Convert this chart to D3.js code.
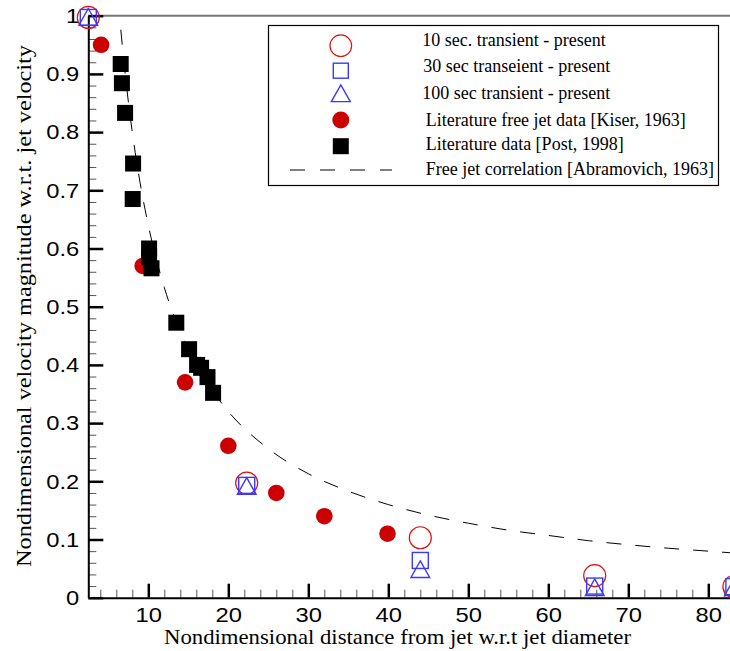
<!DOCTYPE html>
<html>
<head>
<meta charset="utf-8">
<script src="https://cdn.jsdelivr.net/npm/d3@7"></script>
<style>
  html, body { margin: 0; padding: 0; background: #fff; }
  svg { display: block; }
  .serif { font-family: "Liberation Serif", "Times New Roman", serif; }
  .sans { font-family: "Liberation Sans", Arial, sans-serif; }
</style>
</head>
<body>
<svg id="chart" width="730" height="651"></svg>
<script>
// Centreline velocity decay of a free jet: present transient runs vs literature

// Present simulations: 10 s, 30 s and 100 s transients
const present10X  = [2.5, 22.3, 44.0, 65.8, 83.2];
const present10Y  = [0.997, 0.197, 0.103, 0.038, 0.019];
const present30X  = [2.5, 22.3, 44.0, 65.8, 83.2];
const present30Y  = [0.997, 0.193, 0.064, 0.020, 0.019];
const present100X = [2.5, 22.3, 44.0, 65.8, 83.2];
const present100Y = [0.998, 0.192, 0.049, 0.018, 0.018];

// Literature free jet data [Kiser, 1963]
const kiserX = [4.1, 9.3, 14.6, 20.0, 26.0, 32.0, 39.9];
const kiserY = [0.95, 0.57, 0.37, 0.261, 0.18, 0.14, 0.11];

// Literature data [Post, 1998]
const postX = [6.55, 6.7, 7.1, 8.1, 8.05, 10.1, 10.1, 10.4, 13.5, 15.1, 16.1, 16.6, 17.4, 18.1];
const postY = [0.917, 0.884, 0.833, 0.746, 0.685, 0.600, 0.585, 0.566, 0.4725, 0.427, 0.400, 0.395, 0.379, 0.352];

// Free jet correlation [Abramovich, 1963]
const corrX = [6.4, 7, 8, 9, 10, 12, 14, 16, 18, 20, 25, 30, 35, 40, 45, 50, 55, 60, 65, 70, 75, 80, 85];
const corrY = [1.0, 0.914, 0.80, 0.711, 0.64, 0.533, 0.457, 0.40, 0.356, 0.32, 0.256, 0.213, 0.183, 0.16, 0.142, 0.128, 0.116, 0.107, 0.098, 0.091, 0.085, 0.080, 0.075];

// Axis ticks
const xMajorTicks = [10, 20, 30, 40, 50, 60, 70, 80];
const xTickLabels = ["10", "20", "30", "40", "50", "60", "70", "80"];
const xMinorTicks = [4, 6, 8, 12, 14, 16, 18, 22, 24, 26, 28, 32, 34, 36, 38, 42, 44, 46, 48,
                     52, 54, 56, 58, 62, 64, 66, 68, 72, 74, 76, 78, 82, 84];
const yMajorTicks = [0, 0.1, 0.2, 0.3, 0.4, 0.5, 0.6, 0.7, 0.8, 0.9, 1.0];
const yTickLabels = ["0", "0.1", "0.2", "0.3", "0.4", "0.5", "0.6", "0.7", "0.8", "0.9", "1"];
const yMinorTicks = [0.02, 0.04, 0.06, 0.08, 0.12, 0.14, 0.16, 0.18, 0.22, 0.24, 0.26, 0.28,
                     0.32, 0.34, 0.36, 0.38, 0.42, 0.44, 0.46, 0.48, 0.52, 0.54, 0.56, 0.58,
                     0.62, 0.64, 0.66, 0.68, 0.72, 0.74, 0.76, 0.78, 0.82, 0.84, 0.86, 0.88,
                     0.92, 0.94, 0.96, 0.98];

const legendLabels = [
  "10 sec. transient - present",
  "30 sec transeient - present",
  "100 sec transient - present",
  "Literature free jet data [Kiser, 1963]",
  "Literature data [Post, 1998]",
  "Free jet correlation [Abramovich, 1963]"
];

const RED_OPEN = "#e01010";
const RED_FILL = "#cc0000";
const BLUE = "#3a3aff";
const WIDEN = 1.13;   // glyphs are drawn a little wider than the face's natural width

const svg = d3.select("#chart");

const x = d3.scaleLinear().domain([2.5, 85]).range([88.3, 748.3]);
const y = d3.scaleLinear().domain([0, 1]).range([597.7, 15.7]);

const zip = (xs, ys) => xs.map((v, i) => [v, ys[i]]);

// Top frame line at y = 1
svg.append("line")
  .attr("x1", x(2.5)).attr("x2", x(85))
  .attr("y1", y(1)).attr("y2", y(1))
  .attr("stroke", "#777").attr("stroke-width", 2);

// Minor ticks
const xMinor = svg.append("g")
  .attr("transform", `translate(0,${y(0)})`)
  .call(d3.axisBottom(x).tickValues(xMinorTicks).tickSizeInner(-8).tickSizeOuter(0).tickFormat(""));
xMinor.select(".domain").remove();
xMinor.selectAll(".tick line").attr("stroke", "#555").attr("stroke-width", 1);

const yMinor = svg.append("g")
  .attr("transform", `translate(${x(2.5)},0)`)
  .call(d3.axisLeft(y).tickValues(yMinorTicks).tickSizeInner(-8).tickSizeOuter(0).tickFormat(""));
yMinor.select(".domain").remove();
yMinor.selectAll(".tick line").attr("stroke", "#555").attr("stroke-width", 1);

// Major ticks and labels
const xAxis = svg.append("g")
  .attr("transform", `translate(0,${y(0)})`)
  .call(d3.axisBottom(x).tickValues(xMajorTicks).tickSizeInner(-14).tickSizeOuter(0)
    .tickPadding(9).tickFormat((d, i) => xTickLabels[i]));
xAxis.select(".domain").attr("stroke", "#000").attr("stroke-width", 2);
xAxis.selectAll(".tick line").attr("stroke", "#000").attr("stroke-width", 2.5);
xAxis.selectAll(".tick text").attr("class", "sans").attr("font-size", 21).attr("fill", "#000")
  .attr("transform", `scale(${WIDEN},1)`);

const yAxis = svg.append("g")
  .attr("transform", `translate(${x(2.5)},0)`)
  .call(d3.axisLeft(y).tickValues(yMajorTicks).tickSizeInner(-15).tickSizeOuter(0)
    .tickPadding(8).tickFormat((d, i) => yTickLabels[i]));
yAxis.select(".domain").attr("stroke", "#000").attr("stroke-width", 2);
yAxis.selectAll(".tick line").attr("stroke", "#000").attr("stroke-width", 2.5);
yAxis.selectAll(".tick text").attr("class", "sans").attr("font-size", 21).attr("fill", "#000")
  .attr("transform", `scale(${WIDEN},1)`);

// Axis titles
svg.append("text")
  .attr("class", "serif")
  .attr("x", 397.5).attr("y", 644)
  .attr("text-anchor", "middle")
  .attr("font-size", 21)
  .attr("textLength", 467).attr("lengthAdjust", "spacingAndGlyphs")
  .text("Nondimensional distance from jet w.r.t jet diameter");

svg.append("text")
  .attr("class", "serif")
  .attr("transform", "translate(31,306) rotate(-90)")
  .attr("text-anchor", "middle")
  .attr("font-size", 22)
  .attr("textLength", 522).attr("lengthAdjust", "spacingAndGlyphs")
  .text("Nondimensional velocity magnitude w.r.t. jet velocity");

// Correlation curve
const line = d3.line().x(d => x(d[0])).y(d => y(d[1])).curve(d3.curveMonotoneX);
svg.append("path")
  .datum(zip(corrX, corrY))
  .attr("d", line)
  .attr("fill", "none")
  .attr("stroke", "#000")
  .attr("stroke-width", 1)
  .attr("stroke-dasharray", "15,14")
  .attr("stroke-dashoffset", 15);

// Marker helpers
const triPath = (cx, cy, w, h) =>
  `M${cx},${cy - h / 2}L${cx + w / 2},${cy + h / 2}L${cx - w / 2},${cy + h / 2}Z`;

// Kiser: filled red circles
svg.append("g").selectAll("circle")
  .data(zip(kiserX, kiserY)).join("circle")
  .attr("cx", d => x(d[0])).attr("cy", d => y(d[1]))
  .attr("r", 8.3).attr("fill", RED_FILL);

// Post: filled black squares
svg.append("g").selectAll("rect")
  .data(zip(postX, postY)).join("rect")
  .attr("x", d => x(d[0]) - 8).attr("y", d => y(d[1]) - 8)
  .attr("width", 16).attr("height", 16).attr("fill", "#000");

// Present: open circles, squares, triangles
svg.append("g").selectAll("circle")
  .data(zip(present10X, present10Y)).join("circle")
  .attr("cx", d => x(d[0])).attr("cy", d => y(d[1]))
  .attr("r", 11).attr("fill", "none").attr("stroke", RED_OPEN).attr("stroke-width", 1.2);

svg.append("g").selectAll("rect")
  .data(zip(present30X, present30Y)).join("rect")
  .attr("x", d => x(d[0]) - 8).attr("y", d => y(d[1]) - 8)
  .attr("width", 16).attr("height", 16)
  .attr("fill", "none").attr("stroke", BLUE).attr("stroke-width", 1.4);

svg.append("g").selectAll("path")
  .data(zip(present100X, present100Y)).join("path")
  .attr("d", d => triPath(x(d[0]), y(d[1]), 18.7, 16.7))
  .attr("fill", "none").attr("stroke", BLUE).attr("stroke-width", 1.4);

// Legend
const lg = svg.append("g");
lg.append("rect")
  .attr("x", 268.5).attr("y", 25.5).attr("width", 450).attr("height", 160)
  .attr("fill", "#fff").attr("stroke", "#000").attr("stroke-width", 1.2);

const sx = 340.8;
const rowY = [45.7, 70.7, 93.3, 120, 146.2, 170];
const textX = [422.3, 423.3, 422.3, 425.7, 425.7, 425.7];
const textY = [45.7, 71.7, 99, 126, 150, 175];

lg.append("circle").attr("cx", sx).attr("cy", rowY[0]).attr("r", 10.8)
  .attr("fill", "none").attr("stroke", RED_OPEN).attr("stroke-width", 1.2);
lg.append("rect").attr("x", sx - 7.5).attr("y", rowY[1] - 7.5).attr("width", 15).attr("height", 15)
  .attr("fill", "none").attr("stroke", BLUE).attr("stroke-width", 1.4);
lg.append("path").attr("d", triPath(sx, rowY[2], 19, 16.7))
  .attr("fill", "none").attr("stroke", BLUE).attr("stroke-width", 1.4);
lg.append("circle").attr("cx", sx).attr("cy", rowY[3]).attr("r", 8.5).attr("fill", RED_FILL);
lg.append("rect").attr("x", sx - 8).attr("y", rowY[4] - 8).attr("width", 16).attr("height", 16).attr("fill", "#000");
lg.append("line").attr("x1", 290).attr("x2", 392).attr("y1", rowY[5]).attr("y2", rowY[5])
  .attr("stroke", "#000").attr("stroke-width", 1).attr("stroke-dasharray", "15,15");

lg.selectAll("text.lab")
  .data(legendLabels).join("text")
  .attr("class", "lab serif")
  .attr("x", (d, i) => textX[i]).attr("y", (d, i) => textY[i])
  .attr("font-size", 18)
  .text(d => d);
</script>
</body>
</html>
